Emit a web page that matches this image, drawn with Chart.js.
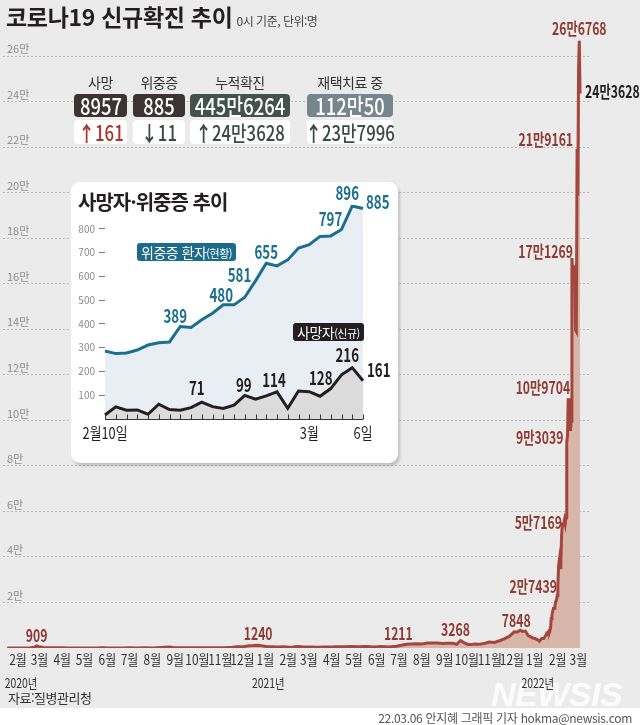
<!DOCTYPE html>
<html lang="ko">
<head>
<meta charset="utf-8">
<script src="https://cdn.jsdelivr.net/npm/chart.js@4.4.1/dist/chart.umd.min.js"></script>
<style>
  body { margin: 0; width: 640px; height: 725px; position: relative; overflow: hidden; background: #fff;
         font-family: 'Noto Sans CJK KR', sans-serif; color: #231f20; }
  .abs { position: absolute; }
  .nar { position: absolute; left: 50%; top: 0; transform: translateX(-50%) scaleX(0.8); white-space: nowrap; }
  #bg { left: 0; top: 0; width: 640px; height: 708px; background: #ebebeb; }
  #mainChart { left: 0; top: 0; }
  #title { left: 6px; top: 0px; font-size: 23px; font-weight: bold; letter-spacing: -0.3px; white-space: nowrap; line-height: 32px; }
  #title small { font-size: 12px; font-weight: normal; color: #444; letter-spacing: -0.5px; margin-left: 4px; }
  .head { top: 72px; height: 20px; line-height: 20px; font-size: 14px; color: #333; text-align: center; letter-spacing: -0.5px; white-space: nowrap; }
  .box { top: 94px; height: 23px; line-height: 23px; border-radius: 4px; color: #fff;
         font-size: 23px; font-weight: 500; white-space: nowrap; }
  .chg { top: 120px; height: 24px; line-height: 24px; border-radius: 4px; background: #fff;
         font-size: 21px; font-weight: 500; white-space: nowrap; }
  #card { left: 71px; top: 182px; width: 327px; height: 281px; background: #fff; border-radius: 9px;
          box-shadow: 2px 3px 3px rgba(0,0,0,0.18); }
  #insetChart { left: 0; top: 0; }
  #insetTitle { left: 7px; top: 5px; font-size: 20px; font-weight: bold; letter-spacing: -1px; white-space: nowrap; }
  .tag { height: 18px; line-height: 18px; border-radius: 3px; color: #fff; font-size: 14px; padding: 0 4px;
         white-space: nowrap; letter-spacing: -0.5px; }
  .tag small { font-size: 11px; }
  #source { left: 8px; top: 688px; font-size: 13px; color: #333; letter-spacing: -0.5px; }
  #credit { right: 8px; top: 709px; font-size: 12px; color: #555; letter-spacing: -0.3px; white-space: nowrap; }
  #wm { left: 491px; top: 677px; line-height: 34px; font-family: 'Liberation Sans', sans-serif; font-weight: bold; font-style: italic;
        font-size: 34px; color: rgba(255,255,255,0.9); letter-spacing: -0.5px; }
</style>
</head>
<body>
<div id="bg" class="abs"></div>
<div id="wm" class="abs">NEWSIS</div>
<canvas id="mainChart" class="abs" width="640" height="725"></canvas>

<div id="title" class="abs">코로나19 신규확진 추이<small>0시 기준, 단위:명</small></div>
<div id="stats"></div>

<div id="card" class="abs">
  <canvas id="insetChart" class="abs" width="327" height="281"></canvas>
  <div id="insetTitle" class="abs">사망자·위중증 추이</div>
  <div class="abs tag" style="left:66px;top:61px;background:#1d6b8a;">위중증 환자<small>(현황)</small></div>
  <div class="abs tag" style="left:222px;top:141px;background:#231f20;">사망자<small>(신규)</small></div>
</div>

<div id="source" class="abs">자료:질병관리청</div>
<div id="credit" class="abs">22.03.06 안지혜 그래픽 기자 hokma@newsis.com</div>

<script>
const FONT = "'Noto Sans CJK KR', sans-serif";

// 신규확진 (daily new cases)
const caseDates = [
  '2020-01-20','2020-02-01','2020-02-17','2020-02-20','2020-02-23','2020-02-26','2020-02-29','2020-03-03',
  '2020-03-06','2020-03-09','2020-03-12','2020-03-16','2020-03-20','2020-03-25','2020-03-31','2020-04-05',
  '2020-04-10','2020-04-20','2020-05-01','2020-05-10','2020-05-20','2020-05-28','2020-06-05','2020-06-15',
  '2020-06-25','2020-07-05','2020-07-15','2020-07-25','2020-08-05','2020-08-15','2020-08-20','2020-08-27',
  '2020-09-01','2020-09-10','2020-09-20','2020-10-01','2020-10-10','2020-10-20','2020-10-31','2020-11-10',
  '2020-11-20','2020-11-27','2020-12-05','2020-12-12','2020-12-18','2020-12-25','2020-12-29',
  '2021-01-05','2021-01-12','2021-01-20','2021-01-28','2021-02-05','2021-02-10','2021-02-17','2021-02-25',
  '2021-03-05','2021-03-15','2021-03-25','2021-04-05','2021-04-12','2021-04-20','2021-04-30','2021-05-10',
  '2021-05-20','2021-05-31','2021-06-10','2021-06-20','2021-06-30','2021-07-07','2021-07-14','2021-07-21',
  '2021-07-28','2021-08-04','2021-08-11','2021-08-18','2021-08-25','2021-09-01','2021-09-08','2021-09-15',
  '2021-09-20','2021-09-25','2021-09-29','2021-10-05','2021-10-10','2021-10-15','2021-10-20','2021-10-27',
  '2021-11-03','2021-11-10','2021-11-17','2021-11-24','2021-11-30','2021-12-07','2021-12-11','2021-12-15',
  '2021-12-18','2021-12-22','2021-12-26','2021-12-29',
  '2022-01-01','2022-01-04','2022-01-07','2022-01-10','2022-01-13','2022-01-16','2022-01-19','2022-01-20',
  '2022-01-21','2022-01-22','2022-01-23','2022-01-24','2022-01-25','2022-01-26','2022-01-27','2022-01-28',
  '2022-01-29','2022-01-30','2022-01-31','2022-02-01','2022-02-02','2022-02-03','2022-02-04','2022-02-05',
  '2022-02-06','2022-02-07','2022-02-08','2022-02-09','2022-02-10','2022-02-11','2022-02-12','2022-02-13',
  '2022-02-14','2022-02-15','2022-02-16','2022-02-17','2022-02-18','2022-02-19','2022-02-20','2022-02-21',
  '2022-02-22','2022-02-23','2022-02-24','2022-02-25','2022-02-26','2022-02-27','2022-02-28','2022-03-01',
  '2022-03-02','2022-03-03','2022-03-04','2022-03-05','2022-03-06'
];
const caseCounts = [
  1, 1, 1, 50, 170, 280, 909, 600,
  500, 250, 110, 75, 150, 100, 125, 80,
  30, 10, 9, 35, 30, 79, 45, 40,
  50, 60, 40, 58, 30, 166, 300, 441,
  235, 150, 80, 70, 70, 80, 120, 140,
  360, 570, 600, 950, 1060, 1240, 1040,
  700, 540, 400, 500, 370, 440, 620, 400,
  400, 380, 430, 480, 590, 550, 660, 510,
  650, 430, 610, 430, 790, 1211, 1600, 1780,
  1900, 1720, 2200, 2150, 2150, 2020, 2050, 2080,
  1600, 3268, 2500, 1570, 1500, 1700, 1600, 1950,
  2660, 2400, 3180, 4100, 5100, 7100, 7000, 7848,
  7300, 7450, 5400, 5000,
  4400, 4200, 3700, 3000, 4200, 4200, 5800, 6600,
  6700, 7000, 7600, 7500, 8570, 13000, 14500, 16100,
  17500, 17500, 18300, 20300, 20900, 22900, 27439, 36300,
  38700, 35300, 36700, 49600, 54100, 53900, 54900, 56400,
  54600, 57169, 90400, 93039, 109704, 102200, 104800, 95400,
  99600, 171269, 165900, 166200, 166700, 163600, 139600, 139000,
  219161, 198800, 254300, 266768, 243628
];
const peakDates = ['2020-02-29','2020-12-25','2021-07-07','2021-09-25','2021-12-15','2022-02-04','2022-02-15',
                   '2022-02-17','2022-02-18','2022-02-23','2022-03-02','2022-03-05','2022-03-06'];

const monthLabels = ['2월','3월','4월','5월','6월','7월','8월','9월','10월','11월','12월',
                     '1월','2월','3월','4월','5월','6월','7월','8월','9월','10월','11월','12월',
                     '1월','2월','3월'];
const yearLabels = { 0: '2020년', 11: '2021년', 23: '2022년' };
const yTickValues = [20000, 40000, 60000, 80000, 100000, 120000, 140000, 160000, 180000, 200000, 220000, 240000, 260000];
const yTickLabels = ['2만','4만','6만','8만','10만','12만','14만','16만','18만','20만','22만','24만','26만'];

// 상단 현황
const statNames = ['사망', '위중증', '누적확진', '재택치료 중'];
const statTotals = [8957, 885, 4456264, 1120050];
const statChanges = [161, -11, 243628, 237996];

// 사망자·위중증 추이 (2월10일 ~ 3월6일)
const insetDays = ['2월10일','11일','12일','13일','14일','15일','16일','17일','18일','19일','20일','21일','22일',
                   '23일','24일','25일','26일','27일','28일','3월1일','2일','3일','4일','5일','6일'];
const criticalCounts = [286, 275, 278, 290, 311, 321, 324, 389, 385, 417, 445, 480, 480,
                        512, 581, 655, 644, 669, 719, 733, 768, 770, 797, 896, 885];
const deathCounts = [17, 51, 37, 38, 20, 62, 40, 37, 48, 71, 52, 44, 58,
                     99, 83, 97, 114, 45, 118, 115, 96, 128, 186, 216, 161];
const criticalLabelAt = [7, 11, 14, 15, 22, 23, 24];
const deathLabelAt = [9, 13, 16, 21, 23, 24];
const insetTickText = { 0: '2월10일', 19: '3월', 24: '6일' };

// ---- styles ----
const RED = '#a5463c', RED_TXT = '#8e3b33';
const peakStyle = [
  [0, -10, 'center'], [0, -12, 'center'], [-3, -12, 'center'], [-5, -11, 'center'], [-4, -10, 'center'],
  [-1, 1, 'right'], [-4, 5, 'right'], [-4, 1, 'right'], [2, -11, 'right'], [1, -7, 'right'],
  [-4, -10, 'right'], [0, -12, 'center'], [5, -2, 'left', '#222']
];
const critLabelPos = [[-5, -11, 'center'], [-2, -10, 'center'], [-16, -6, 'center'], [0, -11, 'center'],
                      [-11, -11, 'center'], [-5, -13, 'center'], [3, -7, 'left']];
const deathLabelPos = [[-5, -14, 'center'], [-1, -11, 'center'], [-3, -12, 'center'], [-10, -11, 'center'],
                       [-5, -13, 'center'], [4, -11, 'left']];

function dayNum(s) {
  const [y, m, d] = s.split('-').map(Number);
  return Date.UTC(y, m - 1, d) / 86400000;
}
function fmtMan(v) {
  return v >= 10000 ? Math.floor(v / 10000) + '만' + (v % 10000) : String(v);
}
// condensed text: draw squeezed horizontally
function narrowText(ctx, text, x, y, align, sx) {
  ctx.save();
  ctx.translate(x, y);
  ctx.scale(sx, 1);
  ctx.textAlign = align;
  ctx.fillText(text, 0, 0);
  ctx.restore();
}

// STAT BOXES
const cols = [[74, 127], [133, 185], [190, 290], [307, 393]];
const boxColors = ['#3b3432', '#3b3432', '#44524d', '#77858e'];
let html = '';
statNames.forEach((n, i) => {
  const [l, r] = cols[i];
  const w = r - l;
  const c = statChanges[i];
  const arrow = c >= 0 ? '↑' : '↓';
  const col = i === 0 ? '#b0302a' : '#3c4944';
  html += `<div class="abs head" style="left:${l}px;width:${w}px">${n}</div>`;
  html += `<div class="abs box" style="left:${l}px;width:${w}px;background:${boxColors[i]}"><span class="nar">${fmtMan(statTotals[i])}</span></div>`;
  html += `<div class="abs chg" style="left:${l}px;width:${w}px;color:${col}"><span class="nar"><b>${arrow}</b>${fmtMan(Math.abs(c))}</span></div>`;
});
document.getElementById('stats').innerHTML = html;

// MAIN CHART
const monthTickDays = monthLabels.map((_, i) => {
  const m = 1 + i; // months after Jan 2020
  return Date.UTC(2020 + Math.floor(m / 12), m % 12, 1) / 86400000;
});

const mainText = {
  id: 'mainText',
  afterDatasetsDraw(chart) {
    const { ctx, scales: { x, y } } = chart;
    ctx.save();
    ctx.textBaseline = 'middle';
    ctx.font = 'bold 17px ' + FONT;
    peakDates.forEach((d, i) => {
      const v = caseCounts[caseDates.indexOf(d)];
      const [dx, dy, align, color] = peakStyle[i];
      ctx.fillStyle = color || RED_TXT;
      narrowText(ctx, fmtMan(v), x.getPixelForValue(dayNum(d)) + dx, y.getPixelForValue(v) + dy, align, 0.72);
    });
    // month / year labels
    ctx.fillStyle = '#333';
    monthTickDays.forEach((v, i) => {
      const px = x.getPixelForValue(v) + 2;
      ctx.font = '14px ' + FONT;
      narrowText(ctx, monthLabels[i], px, y.bottom + 12, 'center', 0.85);
      if (yearLabels[i]) {
        ctx.font = '13px ' + FONT;
        narrowText(ctx, yearLabels[i], px + 3, y.bottom + 35, 'center', 0.8);
      }
    });
    ctx.restore();
  }
};

new Chart(document.getElementById('mainChart'), {
  type: 'line',
  data: {
    datasets: [{
      data: caseDates.map((d, i) => ({ x: dayNum(d), y: caseCounts[i] })),
      borderColor: RED,
      borderWidth: 3,
      backgroundColor: '#d9b6aa',
      fill: 'origin',
      pointRadius: 0,
      tension: 0
    }]
  },
  options: {
    responsive: false,
    animation: false,
    layout: { padding: { top: 6, right: 50, left: 0, bottom: 77 } },
    plugins: { legend: { display: false }, tooltip: { enabled: false } },
    scales: {
      x: {
        type: 'linear',
        display: false,
        min: dayNum('2020-02-01') - 17.6,
        max: dayNum('2022-03-06') + 13.5
      },
      y: {
        min: 0,
        max: 280000,
        afterBuildTicks: s => { s.ticks = yTickValues.map(v => ({ value: v })); },
        afterFit: s => { s.width = 3; },
        grid: { color: '#b9b9b9', lineWidth: 1, drawTicks: false },
        border: { display: false, dash: [2, 2] },
        ticks: {
          mirror: true,
          padding: 4,
          labelOffset: -7,
          color: '#8c8c8c',
          font: { family: FONT, size: 11 },
          callback: (v, i) => yTickLabels[i]
        }
      }
    }
  },
  plugins: [mainText]
});

// INSET CHART
const insetText = {
  id: 'insetText',
  afterDatasetsDraw(chart) {
    const { ctx, scales: { x, y } } = chart;
    ctx.save();
    // small day ticks on the baseline
    ctx.strokeStyle = '#333';
    ctx.lineWidth = 1;
    const base = Math.round(y.getPixelForValue(0)) + 0.5;
    insetDays.forEach((_, i) => {
      const px = Math.round(x.getPixelForValue(i)) + 0.5;
      ctx.beginPath(); ctx.moveTo(px, base); ctx.lineTo(px, base - 5); ctx.stroke();
    });
    ctx.beginPath(); ctx.moveTo(x.left, base); ctx.lineTo(x.right, base); ctx.stroke();

    ctx.textBaseline = 'middle';
    ctx.font = 'bold 19px ' + FONT;
    ctx.fillStyle = '#1b6f8f';
    criticalLabelAt.forEach((k, i) => {
      const [dx, dy, align] = critLabelPos[i];
      narrowText(ctx, String(criticalCounts[k]), x.getPixelForValue(k) + dx, y.getPixelForValue(criticalCounts[k]) + dy, align, 0.7);
    });
    ctx.fillStyle = '#231f20';
    deathLabelAt.forEach((k, i) => {
      const [dx, dy, align] = deathLabelPos[i];
      narrowText(ctx, String(deathCounts[k]), x.getPixelForValue(k) + dx, y.getPixelForValue(deathCounts[k]) + dy, align, 0.7);
    });
    // day labels
    ctx.font = '16px ' + FONT;
    Object.keys(insetTickText).forEach(k => {
      narrowText(ctx, insetTickText[k], x.getPixelForValue(Number(k)), base + 13, 'center', 0.8);
    });
    ctx.restore();
  }
};

new Chart(document.getElementById('insetChart'), {
  type: 'line',
  data: {
    labels: insetDays,
    datasets: [{
      data: criticalCounts,
      borderColor: '#1a6f8e',
      backgroundColor: '#e9eef4',
      borderWidth: 3,
      fill: 'origin',
      pointRadius: 0,
      order: 2
    }, {
      data: deathCounts,
      borderColor: '#231f20',
      backgroundColor: '#dcdcdc',
      borderWidth: 3,
      fill: 'origin',
      pointRadius: 0,
      order: 1
    }]
  },
  options: {
    responsive: false,
    animation: false,
    layout: { padding: { top: 23, right: 35, left: 0, bottom: 44 } },
    plugins: { legend: { display: false }, tooltip: { enabled: false } },
    scales: {
      x: { display: false, offset: false },
      y: {
        min: 0,
        max: 900,
        afterBuildTicks: s => { s.ticks = [100, 200, 300, 400, 500, 600, 700, 800].map(v => ({ value: v })); },
        afterFit: s => { s.width = 34; },
        grid: { drawOnChartArea: false, tickLength: 6, color: '#777' },
        border: { display: false },
        ticks: { padding: 4, color: '#8a8a8a', font: { family: FONT, size: 10 } }
      }
    }
  },
  plugins: [insetText]
});
</script>
</body>
</html>
